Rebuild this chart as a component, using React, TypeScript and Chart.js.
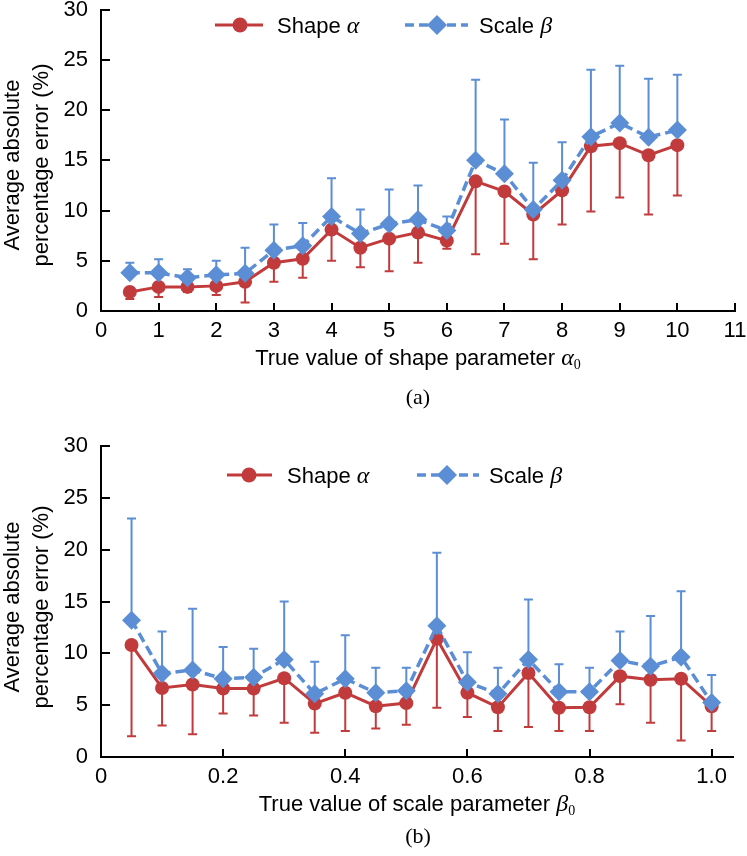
import React, { useEffect, useRef } from 'react';
import { Chart, registerables } from 'chart.js';
Chart.register(...registerables);

const RED = '#C23B3C';
const BLUE = '#5B8ED5';
const SANS = '"Liberation Sans", Arial, Helvetica, sans-serif';
const SERIF = '"Liberation Serif", "Times New Roman", serif';
const FS = 22;

const Y_TICKS = [0, 5, 10, 15, 20, 25, 30];

// Panel (a)
const X_A = [0.5, 1, 1.5, 2, 2.5, 3, 3.5, 4, 4.5, 5, 5.5, 6, 6.5, 7, 7.5, 8, 8.5, 9, 9.5, 10];
const SHAPE_A = [1.9, 2.4, 2.4, 2.5, 2.9, 4.8, 5.2, 8.1, 6.3, 7.2, 7.8, 7.0, 12.9, 11.9, 9.6, 12.0, 16.4, 16.7, 15.5, 16.5];
const SHAPE_A_LOW = [1.2, 1.4, 1.9, 1.6, 0.85, 2.9, 3.3, 5.0, 4.35, 3.95, 4.8, 6.2, 5.65, 6.7, 5.15, 8.6, 9.9, 11.3, 9.6, 11.5];
const SCALE_A = [3.8, 3.8, 3.3, 3.6, 3.75, 6.05, 6.5, 9.4, 7.7, 8.65, 9.1, 8.0, 15.0, 13.65, 10.1, 13.0, 17.35, 18.7, 17.3, 18.0];
const SCALE_A_HIGH = [4.8, 5.15, 4.15, 5.0, 6.3, 8.6, 8.75, 13.2, 10.1, 12.1, 12.5, 9.4, 23.0, 19.05, 14.75, 16.8, 24.0, 24.4, 23.1, 23.5];
const X_TICKS_A = [0, 1, 2, 3, 4, 5, 6, 7, 8, 9, 10, 11];

// Panel (b)
const X_B = [0.05, 0.1, 0.15, 0.2, 0.25, 0.3, 0.35, 0.4, 0.45, 0.5, 0.55, 0.6, 0.65, 0.7, 0.75, 0.8, 0.85, 0.9, 0.95, 1.0];
const SHAPE_B = [10.8, 6.66, 7.0, 6.6, 6.6, 7.6, 5.15, 6.2, 4.9, 5.2, 11.4, 6.2, 4.8, 8.1, 4.75, 4.8, 7.8, 7.45, 7.55, 4.9];
const SHAPE_B_LOW = [2.0, 3.05, 2.2, 4.2, 4.0, 3.3, 2.35, 2.5, 2.75, 3.1, 4.75, 3.85, 2.5, 2.9, 2.5, 2.5, 5.1, 3.3, 1.6, 2.5];
const SCALE_B = [13.2, 8.05, 8.4, 7.55, 7.7, 9.4, 6.1, 7.55, 6.2, 6.4, 12.65, 7.2, 6.1, 9.4, 6.3, 6.3, 9.3, 8.75, 9.65, 5.25];
const SCALE_B_HIGH = [23.0, 12.1, 14.3, 10.6, 10.45, 15.0, 9.2, 11.75, 8.6, 8.6, 19.7, 10.1, 8.6, 15.2, 8.95, 8.6, 12.1, 13.6, 16.0, 7.9];
const X_TICKS_B = [0, 0.2, 0.4, 0.6, 0.8, 1.0];

type Seg = { t: string; font: string; dy?: number };

function drawRich(ctx: CanvasRenderingContext2D, segs: Seg[], x: number, y: number, align: 'left' | 'center') {
  let total = 0;
  const widths = segs.map((s) => {
    ctx.font = s.font;
    const w = ctx.measureText(s.t).width;
    total += w;
    return w;
  });
  let cx = align === 'center' ? x - total / 2 : x;
  ctx.textAlign = 'left';
  ctx.textBaseline = 'alphabetic';
  segs.forEach((s, i) => {
    ctx.font = s.font;
    ctx.fillText(s.t, cx, y + (s.dy || 0));
    cx += widths[i];
  });
}

type Cfg = {
  xs: number[];
  shape: number[];
  shapeLow: number[];
  scale: number[];
  scaleHigh: number[];
  xTicks: number[];
  xMax: number;
  fmt: (v: number) => string;
  canvasTop: number;
  height: number;
  areaTop: number;
  areaBottom: number;
  padRight: number;
  xTitle: Seg[];
  yTitleCenter: number;
  legend: { y: number; r0: number; r1: number; rc: number; rt: number; b0: number; b1: number; bc: number; bt: number };
};

function makePlugin(cfg: Cfg) {
  return {
    id: 'panelDecor',
    beforeDatasetsDraw(chart: any) {
      const ctx: CanvasRenderingContext2D = chart.ctx;
      const xs = chart.scales.x;
      const ys = chart.scales.y;
      const cap = 4.5;
      ctx.save();
      ctx.lineWidth = 2;
      // red: downward error bars
      ctx.strokeStyle = RED;
      cfg.xs.forEach((x, i) => {
        const px = xs.getPixelForValue(x);
        const p0 = ys.getPixelForValue(cfg.shape[i]);
        const p1 = ys.getPixelForValue(cfg.shapeLow[i]);
        ctx.beginPath();
        ctx.moveTo(px, p0);
        ctx.lineTo(px, p1);
        ctx.moveTo(px - cap, p1);
        ctx.lineTo(px + cap, p1);
        ctx.stroke();
      });
      // blue: upward error bars
      ctx.strokeStyle = BLUE;
      cfg.xs.forEach((x, i) => {
        const px = xs.getPixelForValue(x);
        const p0 = ys.getPixelForValue(cfg.scale[i]);
        const p1 = ys.getPixelForValue(cfg.scaleHigh[i]);
        ctx.beginPath();
        ctx.moveTo(px, p0);
        ctx.lineTo(px, p1);
        ctx.moveTo(px - cap, p1);
        ctx.lineTo(px + cap, p1);
        ctx.stroke();
      });
      ctx.restore();
    },
    afterDraw(chart: any) {
      const ctx: CanvasRenderingContext2D = chart.ctx;
      const area = chart.chartArea;
      const xs = chart.scales.x;
      const ys = chart.scales.y;
      ctx.save();
      // inward tick marks
      ctx.strokeStyle = '#000';
      ctx.lineWidth = 2;
      ctx.beginPath();
      xs.ticks.forEach((t: any) => {
        const px = Math.round(xs.getPixelForValue(t.value));
        ctx.moveTo(px, area.bottom);
        ctx.lineTo(px, area.bottom - 8);
      });
      ys.ticks.forEach((t: any) => {
        const py = Math.round(ys.getPixelForValue(t.value));
        ctx.moveTo(area.left, py);
        ctx.lineTo(area.left + 9, py);
      });
      ctx.stroke();

      // x title
      ctx.fillStyle = '#000';
      drawRich(ctx, cfg.xTitle, (area.left + area.right) / 2, area.bottom + 54, 'center');

      // y title (two rotated lines)
      const lines: [string, number][] = [
        ['Average absolute', 19],
        ['percentage error (%)', 48],
      ];
      lines.forEach(([txt, bx]) => {
        ctx.save();
        ctx.font = `${FS}px ${SANS}`;
        ctx.textAlign = 'center';
        ctx.textBaseline = 'alphabetic';
        ctx.translate(bx, cfg.yTitleCenter);
        ctx.rotate(-Math.PI / 2);
        ctx.fillText(txt, 0, 0);
        ctx.restore();
      });

      // legend
      const lg = cfg.legend;
      ctx.strokeStyle = RED;
      ctx.lineWidth = 3;
      ctx.setLineDash([]);
      ctx.beginPath();
      ctx.moveTo(lg.r0, lg.y);
      ctx.lineTo(lg.r1, lg.y);
      ctx.stroke();
      ctx.fillStyle = RED;
      ctx.beginPath();
      ctx.arc(lg.rc, lg.y, 7.5, 0, Math.PI * 2);
      ctx.fill();
      ctx.fillStyle = '#000';
      drawRich(
        ctx,
        [
          { t: 'Shape ', font: `${FS}px ${SANS}` },
          { t: 'α', font: `italic 24px ${SERIF}` },
        ],
        lg.rt,
        lg.y + 8,
        'left'
      );
      ctx.strokeStyle = BLUE;
      ctx.lineWidth = 3.5;
      ctx.setLineDash([9, 5]);
      ctx.beginPath();
      ctx.moveTo(lg.b0, lg.y);
      ctx.lineTo(lg.b1, lg.y);
      ctx.stroke();
      ctx.setLineDash([]);
      ctx.fillStyle = BLUE;
      ctx.beginPath();
      ctx.moveTo(lg.bc - 10, lg.y);
      ctx.lineTo(lg.bc, lg.y - 10);
      ctx.lineTo(lg.bc + 10, lg.y);
      ctx.lineTo(lg.bc, lg.y + 10);
      ctx.closePath();
      ctx.fill();
      ctx.fillStyle = '#000';
      drawRich(
        ctx,
        [
          { t: 'Scale ', font: `${FS}px ${SANS}` },
          { t: 'β', font: `italic 24px ${SERIF}` },
        ],
        lg.bt,
        lg.y + 8,
        'left'
      );
      ctx.restore();
    },
  };
}

function PanelChart({ cfg }: { cfg: Cfg }) {
  const ref = useRef<HTMLCanvasElement>(null);
  useEffect(() => {
    const canvas = ref.current!;
    const chart = new Chart(canvas, {
      type: 'line',
      data: {
        datasets: [
          {
            label: 'Shape α',
            data: cfg.xs.map((x, i) => ({ x, y: cfg.shape[i] })),
            borderColor: RED,
            backgroundColor: RED,
            borderWidth: 3,
            pointStyle: 'circle',
            pointRadius: 7,
            pointHoverRadius: 7,
            pointBorderWidth: 0,
            tension: 0,
            order: 2,
          },
          {
            label: 'Scale β',
            data: cfg.xs.map((x, i) => ({ x, y: cfg.scale[i] })),
            borderColor: BLUE,
            backgroundColor: BLUE,
            borderWidth: 3.5,
            borderDash: [10, 5],
            pointStyle: 'rectRot',
            pointRadius: 9.5,
            pointHoverRadius: 9.5,
            pointBorderWidth: 0,
            tension: 0,
            order: 1,
          },
        ],
      } as any,
      options: {
        animation: false,
        responsive: false,
        maintainAspectRatio: false,
        devicePixelRatio: 1,
        events: [],
        layout: { padding: { top: cfg.areaTop, right: cfg.padRight, left: 0, bottom: 0 } },
        plugins: { legend: { display: false }, tooltip: { enabled: false } },
        scales: {
          x: {
            type: 'linear',
            min: 0,
            max: cfg.xMax,
            grid: { display: false, drawTicks: false },
            border: { display: true, color: '#000', width: 2 },
            ticks: {
              color: '#000',
              font: { family: SANS, size: FS },
              padding: 7,
              maxRotation: 0,
              autoSkip: false,
              callback: (v: any) => cfg.fmt(Number(v)),
            },
            afterBuildTicks: (s: any) => {
              s.ticks = cfg.xTicks.map((v) => ({ value: v }));
            },
            afterFit: (s: any) => {
              s.height = cfg.height - cfg.areaBottom;
              s.paddingLeft = 0;
              s.paddingRight = 0;
            },
          },
          y: {
            type: 'linear',
            min: 0,
            max: 30,
            grid: { display: false, drawTicks: false },
            border: { display: true, color: '#000', width: 2 },
            ticks: {
              color: '#000',
              font: { family: SANS, size: FS },
              padding: 13,
              callback: (v: any) => String(v),
            },
            afterBuildTicks: (s: any) => {
              s.ticks = Y_TICKS.map((v) => ({ value: v }));
            },
            afterFit: (s: any) => {
              s.width = 101;
              s.paddingTop = 0;
              s.paddingBottom = 0;
            },
          },
        },
      } as any,
      plugins: [makePlugin(cfg)],
    });
    return () => chart.destroy();
  }, [cfg]);
  return (
    <canvas
      ref={ref}
      width={747}
      height={cfg.height}
      style={{ position: 'absolute', left: 0, top: cfg.canvasTop, width: 747, height: cfg.height }}
    />
  );
}

const CFG_A: Cfg = {
  xs: X_A,
  shape: SHAPE_A,
  shapeLow: SHAPE_A_LOW,
  scale: SCALE_A,
  scaleHigh: SCALE_A_HIGH,
  xTicks: X_TICKS_A,
  xMax: 11,
  fmt: (v) => String(v),
  canvasTop: 0,
  height: 420,
  areaTop: 5,
  areaBottom: 311,
  padRight: 12,
  xTitle: [
    { t: 'True value of shape parameter ', font: `${FS}px ${SANS}` },
    { t: 'α', font: `italic 24px ${SERIF}` },
    { t: '0', font: `14px ${SERIF}`, dy: 4 },
  ],
  yTitleCenter: 165,
  legend: { y: 25, r0: 215, r1: 263, rc: 240, rt: 277, b0: 405, b1: 468, bc: 437, bt: 479 },
};

const CFG_B: Cfg = {
  xs: X_B,
  shape: SHAPE_B,
  shapeLow: SHAPE_B_LOW,
  scale: SCALE_B,
  scaleHigh: SCALE_B_HIGH,
  xTicks: X_TICKS_B,
  xMax: 1.035,
  fmt: (v) => (v === 0 ? '0' : v.toFixed(1)),
  canvasTop: 428,
  height: 428,
  areaTop: 18,
  areaBottom: 329,
  padRight: 14,
  xTitle: [
    { t: 'True value of scale parameter ', font: `${FS}px ${SANS}` },
    { t: 'β', font: `italic 24px ${SERIF}` },
    { t: '0', font: `14px ${SERIF}`, dy: 4 },
  ],
  yTitleCenter: 179,
  legend: { y: 47, r0: 227, r1: 272, rc: 249, rt: 287, b0: 417, b1: 479, bc: 447, bt: 489 },
};

export default function App() {
  useEffect(() => {
    document.body.style.margin = '0';
  }, []);
  const cap: React.CSSProperties = {
    position: 'absolute',
    left: 0,
    width: 836,
    textAlign: 'center',
    fontFamily: SERIF,
    fontSize: 22,
    lineHeight: '26px',
    color: '#000',
  };
  return (
    <div style={{ position: 'relative', width: 747, height: 856, background: '#fff', overflow: 'hidden' }}>
      <PanelChart cfg={CFG_A} />
      <PanelChart cfg={CFG_B} />
      <div style={{ ...cap, top: 384 }}>(a)</div>
      <div style={{ ...cap, top: 823 }}>(b)</div>
    </div>
  );
}
